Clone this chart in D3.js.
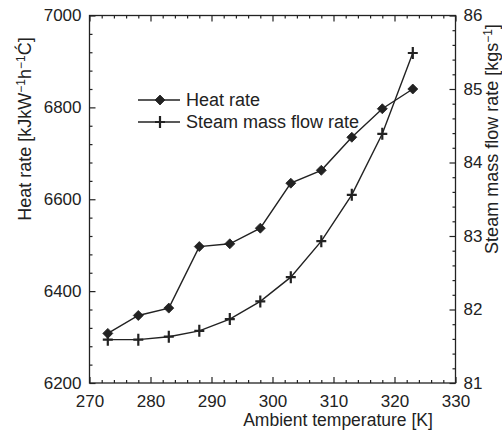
<!DOCTYPE html>
<html>
<head>
<meta charset="utf-8">
<script src="https://cdn.jsdelivr.net/npm/d3@7"></script>
<style>
  html, body { margin: 0; padding: 0; background: #fff; }
  svg { display: block; }
  text { font-family: "Liberation Sans", Arial, Helvetica, sans-serif; fill: #222; }
</style>
</head>
<body>
<svg id="chart" width="502" height="434"></svg>
<script>
// Ambient temperature [K]
const temperature = [273, 278, 283, 288, 293, 298, 303, 308, 313, 318, 323];
// Heat rate [kJ kW^-1 h^-1 °C]
const heatRate = [6308, 6347, 6363, 6497, 6503, 6537, 6635, 6663, 6735, 6797, 6840];
// Steam mass flow rate [kg s^-1]
const steamFlow = [81.59, 81.59, 81.63, 81.71, 81.87, 82.11, 82.44, 82.93, 83.56, 84.39, 85.49];

const xTicks = [270, 280, 290, 300, 310, 320, 330];
const yLeftTicks = [6200, 6400, 6600, 6800, 7000];
const yRightTicks = [81, 82, 83, 84, 85, 86];

const seriesNames = ["Heat rate", "Steam mass flow rate"];

const margin = { left: 89.5, right: 46.5, top: 15.5, bottom: 51 };
const W = 502, H = 434;
const svg = d3.select("#chart");

const x = d3.scaleLinear().domain([270, 330]).range([margin.left, W - margin.right]);
const yL = d3.scaleLinear().domain([6200, 7000]).range([H - margin.bottom, margin.top]);
const yR = d3.scaleLinear().domain([81, 86]).range([H - margin.bottom, margin.top]);

const ink = "#222";
const FONT = 18;
const TICK_FONT = 17;

// frame
svg.append("rect")
  .attr("x", x(270)).attr("y", yL(7000))
  .attr("width", x(330) - x(270)).attr("height", yL(6200) - yL(7000))
  .attr("fill", "none").attr("stroke", ink).attr("stroke-width", 1.3);

function styleAxis(g) {
  g.select(".domain").remove();
  g.selectAll("line").attr("stroke", ink).attr("stroke-width", 1.2);
  g.selectAll("text").attr("font-size", TICK_FONT).attr("fill", ink)
    .style("font-family", "'Liberation Sans', Arial, sans-serif");
}

const major = 6, minor = 3;
const xMinor = d3.range(270, 330.01, 2).filter(v => !xTicks.includes(v));
const yLMinor = d3.range(6200, 7000.01, 40).filter(v => !yLeftTicks.includes(v));
const yRMinor = d3.range(81, 86.001, 0.2).map(v => +v.toFixed(1)).filter(v => !yRightTicks.includes(v));

// bottom axis (ticks pointing inward)
svg.append("g").attr("transform", `translate(0,${yL(6200)})`)
  .call(d3.axisBottom(x).tickValues(xTicks).tickSizeInner(-major).tickSizeOuter(0).tickPadding(12).tickFormat(d3.format("d")))
  .call(styleAxis);
svg.append("g").attr("transform", `translate(0,${yL(6200)})`)
  .call(d3.axisBottom(x).tickValues(xMinor).tickSizeInner(-minor).tickSizeOuter(0).tickFormat(""))
  .call(styleAxis);
// top axis
svg.append("g").attr("transform", `translate(0,${yL(7000)})`)
  .call(d3.axisTop(x).tickValues(xTicks).tickSizeInner(-major).tickSizeOuter(0).tickFormat(""))
  .call(styleAxis);
svg.append("g").attr("transform", `translate(0,${yL(7000)})`)
  .call(d3.axisTop(x).tickValues(xMinor).tickSizeInner(-minor).tickSizeOuter(0).tickFormat(""))
  .call(styleAxis);
// left axis
svg.append("g").attr("transform", `translate(${x(270)},0)`)
  .call(d3.axisLeft(yL).tickValues(yLeftTicks).tickSizeInner(-major).tickSizeOuter(0).tickPadding(8).tickFormat(d3.format("d")))
  .call(styleAxis);
svg.append("g").attr("transform", `translate(${x(270)},0)`)
  .call(d3.axisLeft(yL).tickValues(yLMinor).tickSizeInner(-minor).tickSizeOuter(0).tickFormat(""))
  .call(styleAxis);
// right axis
svg.append("g").attr("transform", `translate(${x(330)},0)`)
  .call(d3.axisRight(yR).tickValues(yRightTicks).tickSizeInner(-major).tickSizeOuter(0).tickPadding(8).tickFormat(d3.format("d")))
  .call(styleAxis);
svg.append("g").attr("transform", `translate(${x(330)},0)`)
  .call(d3.axisRight(yR).tickValues(yRMinor).tickSizeInner(-minor).tickSizeOuter(0).tickFormat(""))
  .call(styleAxis);

// axis titles
svg.append("text")
  .attr("x", 338).attr("y", 426).attr("text-anchor", "middle")
  .attr("font-size", 17.5).text("Ambient temperature [K]");

const leftTitle = svg.append("text")
  .attr("transform", `translate(31,129) rotate(-90)`)
  .attr("text-anchor", "middle").attr("font-size", FONT);
leftTitle.append("tspan").text("Heat rate [kJkW");
leftTitle.append("tspan").attr("dy", -6).attr("font-size", 12).text("−1");
leftTitle.append("tspan").attr("dy", 6).text("h");
leftTitle.append("tspan").attr("dy", -6).attr("font-size", 12).text("−1");
leftTitle.append("tspan").attr("dy", 6).text("Ć]");

const rightTitle = svg.append("text")
  .attr("transform", `translate(498,139) rotate(-90)`)
  .attr("text-anchor", "middle").attr("font-size", FONT);
rightTitle.append("tspan").text("Steam mass flow rate [kgs");
rightTitle.append("tspan").attr("dy", -6).attr("font-size", 12).text("−1");
rightTitle.append("tspan").attr("dy", 6).text("]");

// series
const heatData = temperature.map((t, i) => ({ t, v: heatRate[i] }));
const steamData = temperature.map((t, i) => ({ t, v: steamFlow[i] }));

const lineHeat = d3.line().x(d => x(d.t)).y(d => yL(d.v));
const lineSteam = d3.line().x(d => x(d.t)).y(d => yR(d.v));

svg.append("path").datum(heatData).attr("d", lineHeat)
  .attr("fill", "none").attr("stroke", ink).attr("stroke-width", 1.4);
svg.append("path").datum(steamData).attr("d", lineSteam)
  .attr("fill", "none").attr("stroke", ink).attr("stroke-width", 1.4);

const diamond = "M0,-5L5,0L0,5L-5,0Z";
const plus = "M-5,0H5M0,-6V6";

svg.append("g").selectAll("path").data(heatData).join("path")
  .attr("transform", d => `translate(${x(d.t)},${yL(d.v)})`)
  .attr("d", diamond).attr("fill", ink).attr("stroke", ink).attr("stroke-width", 0.8);
svg.append("g").selectAll("path").data(steamData).join("path")
  .attr("transform", d => `translate(${x(d.t)},${yR(d.v)})`)
  .attr("d", plus).attr("fill", "none").attr("stroke", ink).attr("stroke-width", 2.2);

// legend
const legend = svg.append("g");
const legendRows = [
  { name: seriesNames[0], marker: diamond, fill: ink, sw: 0.8, y: 100 },
  { name: seriesNames[1], marker: plus, fill: "none", sw: 2.2, y: 122 }
];
legendRows.forEach(r => {
  legend.append("line").attr("x1", 138).attr("x2", 180).attr("y1", r.y).attr("y2", r.y)
    .attr("stroke", ink).attr("stroke-width", 1.4);
  legend.append("path").attr("transform", `translate(160,${r.y})`).attr("d", r.marker)
    .attr("fill", r.fill).attr("stroke", ink).attr("stroke-width", r.sw);
  legend.append("text").attr("x", 186).attr("y", r.y + 6).attr("font-size", FONT).text(r.name);
});
</script>
</body>
</html>
